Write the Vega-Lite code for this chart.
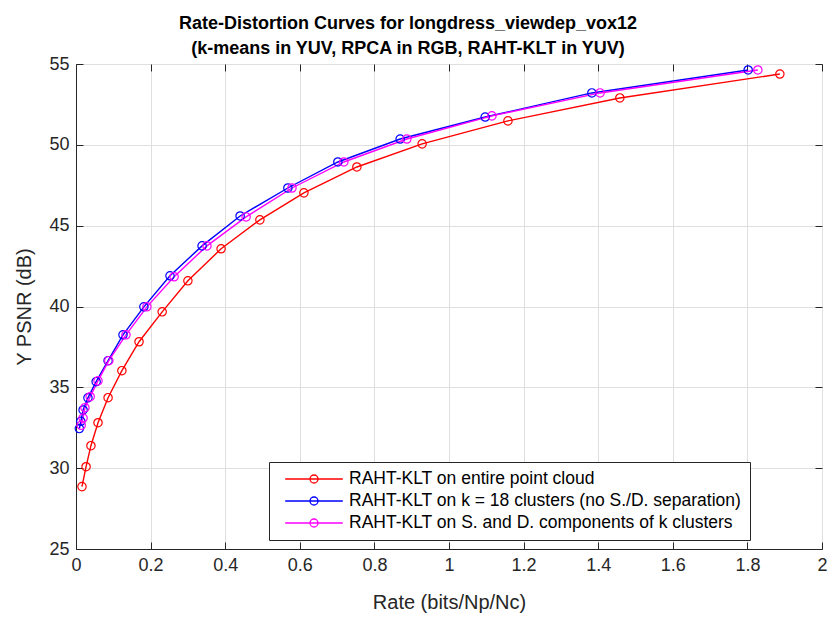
{
  "$schema": "https://vega.github.io/schema/vega-lite/v6.json",
  "autosize": {"type": "none"},
  "padding": {"left": 76, "top": 64, "right": 15, "bottom": 70},
  "width": 746,
  "height": 485,
  "background": "white",
  "config": {
    "font": "Liberation Sans",
    "view": {"stroke": "#262626", "strokeWidth": 1},
    "axis": {
      "labelColor": "#262626",
      "titleColor": "#262626",
      "domainColor": "#262626",
      "tickColor": "#262626",
      "gridColor": "#dfdfdf",
      "gridOpacity": 1,
      "labelFontSize": 18,
      "titleFontSize": 20,
      "titleFontWeight": "normal"
    }
  },
  "title": {
    "text": ["Rate-Distortion Curves for longdress_viewdep_vox12", "(k-means in YUV, RPCA in RGB, RAHT-KLT in YUV)"],
    "fontSize": 18,
    "fontWeight": "bold",
    "lineHeight": 25,
    "color": "#000000",
    "anchor": "middle",
    "dx": -41,
    "dy": 3,
    "offset": 0
  },
  "data": {
    "values": [
      {"series": "RAHT-KLT on entire point cloud", "rate": 0.016, "psnr": 28.86},
      {"series": "RAHT-KLT on entire point cloud", "rate": 0.027, "psnr": 30.09},
      {"series": "RAHT-KLT on entire point cloud", "rate": 0.040, "psnr": 31.39},
      {"series": "RAHT-KLT on entire point cloud", "rate": 0.059, "psnr": 32.81},
      {"series": "RAHT-KLT on entire point cloud", "rate": 0.086, "psnr": 34.36},
      {"series": "RAHT-KLT on entire point cloud", "rate": 0.123, "psnr": 36.03},
      {"series": "RAHT-KLT on entire point cloud", "rate": 0.169, "psnr": 37.82},
      {"series": "RAHT-KLT on entire point cloud", "rate": 0.231, "psnr": 39.67},
      {"series": "RAHT-KLT on entire point cloud", "rate": 0.300, "psnr": 41.59},
      {"series": "RAHT-KLT on entire point cloud", "rate": 0.389, "psnr": 43.57},
      {"series": "RAHT-KLT on entire point cloud", "rate": 0.493, "psnr": 45.36},
      {"series": "RAHT-KLT on entire point cloud", "rate": 0.611, "psnr": 47.03},
      {"series": "RAHT-KLT on entire point cloud", "rate": 0.753, "psnr": 48.63},
      {"series": "RAHT-KLT on entire point cloud", "rate": 0.928, "psnr": 50.06},
      {"series": "RAHT-KLT on entire point cloud", "rate": 1.158, "psnr": 51.48},
      {"series": "RAHT-KLT on entire point cloud", "rate": 1.458, "psnr": 52.90},
      {"series": "RAHT-KLT on entire point cloud", "rate": 1.887, "psnr": 54.38},
      {"series": "RAHT-KLT on k = 18 clusters (no S./D. separation)", "rate": 0.009, "psnr": 32.45},
      {"series": "RAHT-KLT on k = 18 clusters (no S./D. separation)", "rate": 0.013, "psnr": 32.9},
      {"series": "RAHT-KLT on k = 18 clusters (no S./D. separation)", "rate": 0.019, "psnr": 33.6},
      {"series": "RAHT-KLT on k = 18 clusters (no S./D. separation)", "rate": 0.032, "psnr": 34.35},
      {"series": "RAHT-KLT on k = 18 clusters (no S./D. separation)", "rate": 0.054, "psnr": 35.35},
      {"series": "RAHT-KLT on k = 18 clusters (no S./D. separation)", "rate": 0.086, "psnr": 36.65},
      {"series": "RAHT-KLT on k = 18 clusters (no S./D. separation)", "rate": 0.126, "psnr": 38.25},
      {"series": "RAHT-KLT on k = 18 clusters (no S./D. separation)", "rate": 0.182, "psnr": 39.98},
      {"series": "RAHT-KLT on k = 18 clusters (no S./D. separation)", "rate": 0.252, "psnr": 41.9},
      {"series": "RAHT-KLT on k = 18 clusters (no S./D. separation)", "rate": 0.338, "psnr": 43.75},
      {"series": "RAHT-KLT on k = 18 clusters (no S./D. separation)", "rate": 0.440, "psnr": 45.6},
      {"series": "RAHT-KLT on k = 18 clusters (no S./D. separation)", "rate": 0.568, "psnr": 47.33},
      {"series": "RAHT-KLT on k = 18 clusters (no S./D. separation)", "rate": 0.702, "psnr": 48.94},
      {"series": "RAHT-KLT on k = 18 clusters (no S./D. separation)", "rate": 0.869, "psnr": 50.36},
      {"series": "RAHT-KLT on k = 18 clusters (no S./D. separation)", "rate": 1.097, "psnr": 51.72},
      {"series": "RAHT-KLT on k = 18 clusters (no S./D. separation)", "rate": 1.383, "psnr": 53.21},
      {"series": "RAHT-KLT on k = 18 clusters (no S./D. separation)", "rate": 1.802, "psnr": 54.63},
      {"series": "RAHT-KLT on S. and D. components of k clusters", "rate": 0.014, "psnr": 32.65},
      {"series": "RAHT-KLT on S. and D. components of k clusters", "rate": 0.019, "psnr": 33.1},
      {"series": "RAHT-KLT on S. and D. components of k clusters", "rate": 0.024, "psnr": 33.74},
      {"series": "RAHT-KLT on S. and D. components of k clusters", "rate": 0.038, "psnr": 34.42},
      {"series": "RAHT-KLT on S. and D. components of k clusters", "rate": 0.059, "psnr": 35.4},
      {"series": "RAHT-KLT on S. and D. components of k clusters", "rate": 0.088, "psnr": 36.65},
      {"series": "RAHT-KLT on S. and D. components of k clusters", "rate": 0.134, "psnr": 38.25},
      {"series": "RAHT-KLT on S. and D. components of k clusters", "rate": 0.190, "psnr": 39.98},
      {"series": "RAHT-KLT on S. and D. components of k clusters", "rate": 0.263, "psnr": 41.84},
      {"series": "RAHT-KLT on S. and D. components of k clusters", "rate": 0.351, "psnr": 43.75},
      {"series": "RAHT-KLT on S. and D. components of k clusters", "rate": 0.456, "psnr": 45.54},
      {"series": "RAHT-KLT on S. and D. components of k clusters", "rate": 0.579, "psnr": 47.33},
      {"series": "RAHT-KLT on S. and D. components of k clusters", "rate": 0.718, "psnr": 48.94},
      {"series": "RAHT-KLT on S. and D. components of k clusters", "rate": 0.887, "psnr": 50.36},
      {"series": "RAHT-KLT on S. and D. components of k clusters", "rate": 1.115, "psnr": 51.79},
      {"series": "RAHT-KLT on S. and D. components of k clusters", "rate": 1.405, "psnr": 53.21},
      {"series": "RAHT-KLT on S. and D. components of k clusters", "rate": 1.828, "psnr": 54.63}
    ]
  },
  "encoding": {
    "color": {
      "field": "series",
      "type": "nominal",
      "scale": {
        "domain": ["RAHT-KLT on entire point cloud", "RAHT-KLT on k = 18 clusters (no S./D. separation)", "RAHT-KLT on S. and D. components of k clusters"],
        "range": ["#ff0000", "#0000ff", "#ff00ff"]
      },
      "legend": {
        "title": null,
        "orient": "none",
        "legendX": 193,
        "legendY": 398,
        "fillColor": "white",
        "strokeColor": "#262626",
        "padding": 8,
        "labelFontSize": 17.5,
        "labelColor": "#000000",
        "labelLimit": 500,
        "symbolType": "M-3.6,0H3.6M-0.5,0A0.5,0.5,0,1,1,0.5,0A0.5,0.5,0,1,1,-0.5,0",
        "symbolSize": 256,
        "symbolStrokeWidth": 1.3,
        "symbolFillColor": "transparent",
        "symbolOffset": 28,
        "labelOffset": 26,
        "rowPadding": 4
      }
    }
  },
  "layer": [
    {
      "mark": {"type": "line", "strokeWidth": 1.4},
      "encoding": {
        "x": {
          "field": "rate",
          "type": "quantitative",
          "scale": {"domain": [0, 2], "nice": false},
          "axis": {
            "title": "Rate (bits/Np/Nc)",
            "values": [0, 0.2, 0.4, 0.6, 0.8, 1, 1.2, 1.4, 1.6, 1.8, 2],
            "format": "~g",
            "tickSize": -7,
            "labelPadding": 14,
            "titlePadding": 18,
            "labelFlush": false
          }
        },
        "y": {
          "field": "psnr",
          "type": "quantitative",
          "scale": {"domain": [25, 55], "nice": false, "zero": false},
          "axis": {
            "title": "Y PSNR (dB)",
            "values": [25, 30, 35, 40, 45, 50, 55],
            "tickSize": -7,
            "labelPadding": 14,
            "titlePadding": 14,
            "labelFlush": false
          }
        }
      }
    },
    {
      "mark": {"type": "point", "filled": false, "size": 70, "strokeWidth": 1.2, "opacity": 1},
      "encoding": {
        "x": {
          "field": "rate",
          "type": "quantitative",
          "axis": {"orient": "top", "labels": false, "title": null, "grid": false, "tickSize": -7, "domain": false, "values": [0, 0.2, 0.4, 0.6, 0.8, 1, 1.2, 1.4, 1.6, 1.8, 2]}
        },
        "y": {
          "field": "psnr",
          "type": "quantitative",
          "axis": {"orient": "right", "labels": false, "title": null, "grid": false, "tickSize": -7, "domain": false, "values": [25, 30, 35, 40, 45, 50, 55]}
        }
      }
    }
  ],
  "resolve": {"axis": {"x": "independent", "y": "independent"}}
}
